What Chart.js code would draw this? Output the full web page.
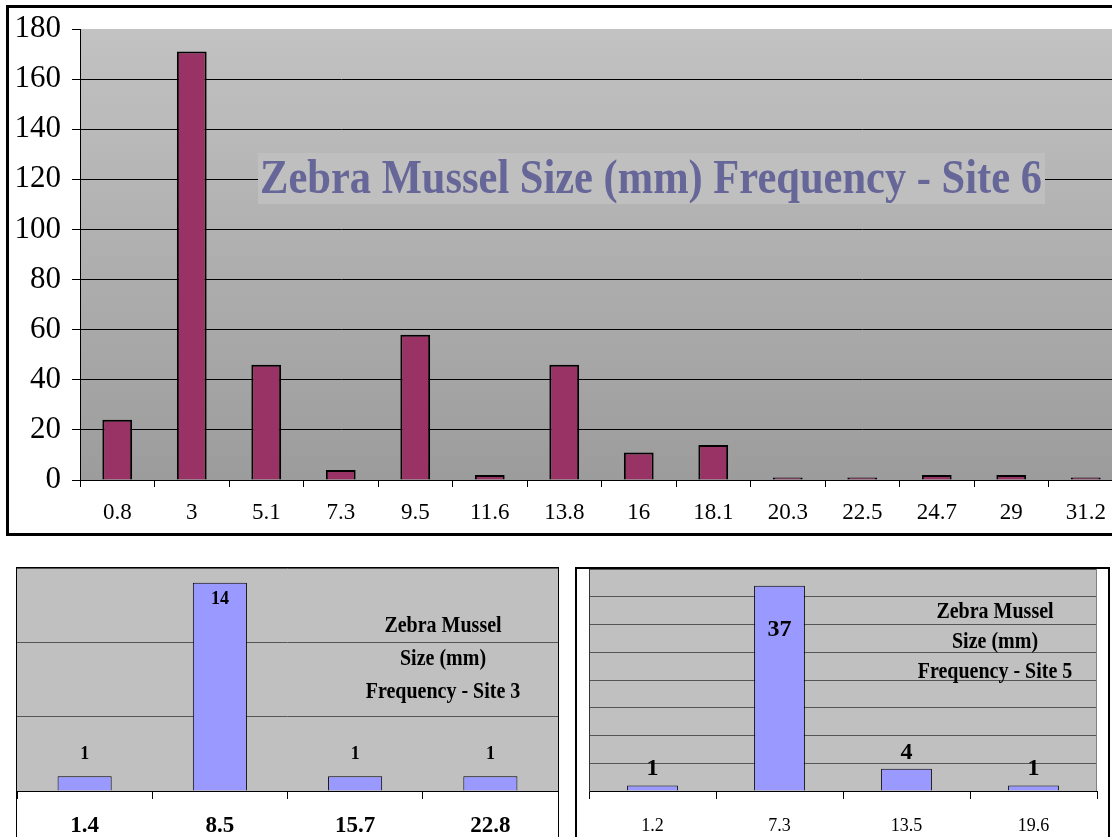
<!DOCTYPE html>
<html>
<head>
<meta charset="utf-8">
<script src="https://cdn.jsdelivr.net/npm/chart.js@4/dist/chart.umd.min.js"></script>
<style>
  html, body { margin: 0; padding: 0; background: #fff; width: 1112px; height: 837px; overflow: hidden; }
  .box { position: absolute; }
  .box canvas { display: block; }
  #box6 { left: 6px; top: 5px; border: 3px solid #000; border-right: none; }
  #box3 { left: 16px; top: 567px; border: 1px solid #000; }
  #box5 { left: 575px; top: 567px; border: 2px solid #000; }
</style>
</head>
<body>
<div class="box" id="box6"><canvas id="site6" width="1114" height="525"></canvas></div>
<div class="box" id="box3"><canvas id="site3" width="541" height="280"></canvas></div>
<div class="box" id="box5"><canvas id="site5" width="531" height="280"></canvas></div>

<script>
// Site 6 (big chart)
const site6Sizes  = ['0.8', '3', '5.1', '7.3', '9.5', '11.6', '13.8', '16', '18.1', '20.3', '22.5', '24.7', '29', '31.2'];
const site6Counts = [24, 171, 46, 4, 58, 2, 46, 11, 14, 1, 1, 2, 2, 1];
const site6Title  = ['Zebra Mussel Size (mm) Frequency - Site 6'];

// Site 3
const site3Sizes  = ['1.4', '8.5', '15.7', '22.8'];
const site3Counts = [1, 14, 1, 1];
const site3Title  = ['Zebra Mussel', 'Size (mm)', 'Frequency - Site 3'];

// Site 5
const site5Sizes  = ['1.2', '7.3', '13.5', '19.6'];
const site5Counts = [1, 37, 4, 1];
const site5Title  = ['Zebra Mussel', 'Size (mm)', 'Frequency - Site 5'];

const SERIF = "'Liberation Serif', 'Times New Roman', serif";

// ── fond du plot (dégradé ou uni) ──
const plotFill = {
  id: 'plotFill',
  beforeDraw(chart, args, o) {
    const { ctx, chartArea: a } = chart;
    ctx.save();
    if (o.to) {
      const g = ctx.createLinearGradient(0, a.top, 0, a.bottom);
      g.addColorStop(0, o.from);
      g.addColorStop(1, o.to);
      ctx.fillStyle = g;
    } else {
      ctx.fillStyle = o.from;
    }
    ctx.fillRect(a.left, a.top, a.right - a.left, a.bottom - a.top);
    ctx.restore();
  },
  afterDatasetsDraw(chart, args, o) {
    if (!o.edge) return;
    const { ctx, chartArea: a } = chart;
    ctx.save();
    ctx.strokeStyle = o.edge;
    ctx.lineWidth = 1;
    ctx.beginPath();
    ctx.moveTo(a.right - 0.5, a.top);
    ctx.lineTo(a.right - 0.5, a.bottom);
    ctx.stroke();
    ctx.restore();
  }
};

// ── titre posé dans le plot (texte un peu étiré en hauteur, comme l'original) ──
const boxTitle = {
  id: 'boxTitle',
  afterDraw(chart, args, o) {
    if (!o.lines) return;
    const ctx = chart.ctx;
    const sy = o.stretch || 1;
    ctx.save();
    let size = o.size;
    if (o.fitWidth) {
      ctx.font = `bold 100px ${SERIF}`;
      size = 100 * o.fitWidth / ctx.measureText(o.lines[0]).width;
    }
    if (o.bg) {
      ctx.fillStyle = o.bg;
      ctx.fillRect(o.bgBox[0], o.bgBox[1], o.bgBox[2], o.bgBox[3]);
    }
    ctx.font = `bold ${size}px ${SERIF}`;
    ctx.fillStyle = o.color;
    ctx.textAlign = 'center';
    ctx.textBaseline = 'middle';
    o.lines.forEach((t, i) => {
      ctx.save();
      ctx.translate(o.x, o.y + i * (o.lineGap || 0));
      ctx.scale(1, sy);
      ctx.fillText(t, 0, 0);
      ctx.restore();
    });
    ctx.restore();
  }
};

// ── étiquettes de valeur ──
const barLabels = {
  id: 'barLabels',
  afterDatasetsDraw(chart, args, o) {
    if (!o.size) return;
    const { ctx, chartArea: a } = chart;
    const meta = chart.getDatasetMeta(0);
    const vals = chart.data.datasets[0].data;
    ctx.save();
    ctx.font = `bold ${o.size}px ${SERIF}`;
    ctx.fillStyle = '#000';
    ctx.textAlign = 'center';
    ctx.textBaseline = 'alphabetic';
    meta.data.forEach((bar, i) => {
      let y = bar.y - o.gap;
      if (y - o.size * 0.7 < a.top) y = bar.y + o.inside;
      ctx.fillText(String(vals[i]), bar.x, y);
    });
    ctx.restore();
  }
};

Chart.register(plotFill, boxTitle, barLabels);

// tailles d'axes figées, sans marge ajoutée par les libellés
function fixWidth(w)  { return s => { s.width = w; s.paddingTop = 0; s.paddingBottom = 0; }; }
function fixHeight(h) { return s => { s.height = h; s.paddingLeft = 0; s.paddingRight = 0; }; }

// ── Site 6 ──
new Chart(document.getElementById('site6'), {
  type: 'bar',
  data: {
    labels: site6Sizes,
    datasets: [{ data: site6Counts, backgroundColor: '#993366', borderColor: '#000', borderWidth: 2,
      categoryPercentage: 1, barPercentage: 0.4 }]
  },
  options: {
    responsive: false, animation: false,
    layout: { padding: { top: 21, left: 0, right: 0, bottom: 0 } },
    plugins: {
      legend: { display: false }, tooltip: { enabled: false },
      plotFill: { from: '#c2c2c2', to: '#9c9c9c' },
      boxTitle: { lines: site6Title, fitWidth: 782, stretch: 1.15, color: '#666699', x: 642, y: 172,
        bg: '#bfbfbf', bgBox: [249, 145, 787, 51] },
      barLabels: {}
    },
    scales: {
      x: {
        afterFit: fixHeight(53),
        grid: { offset: true, drawOnChartArea: false, drawTicks: true, tickLength: 7, color: '#000' },
        border: { color: '#000', width: 1 },
        ticks: { color: '#000', font: { family: SERIF, size: 23 }, padding: 12, maxRotation: 0, autoSkip: false }
      },
      y: {
        min: 0, max: 180,
        afterFit: fixWidth(71),
        grid: { color: c => (c.tick && c.tick.value === 180 ? 'rgba(0,0,0,0)' : '#000'), tickColor: '#000',
          lineWidth: 1, tickLength: 8 },
        border: { color: '#000', width: 1 },
        ticks: { stepSize: 20, color: '#000', font: { family: SERIF, size: 31 }, padding: 11 }
      }
    }
  }
});

// ── Site 3 ──
new Chart(document.getElementById('site3'), {
  type: 'bar',
  data: {
    labels: site3Sizes,
    datasets: [{ data: site3Counts, backgroundColor: '#9999ff', borderColor: '#000', borderWidth: 1,
      categoryPercentage: 1, barPercentage: 0.4 }]
  },
  options: {
    responsive: false, animation: false,
    layout: { padding: 0 },
    plugins: {
      legend: { display: false }, tooltip: { enabled: false },
      plotFill: { from: '#c0c0c0' },
      boxTitle: { lines: site3Title, size: 20, stretch: 1.12, color: '#000', x: 426, y: 58, lineGap: 33 },
      barLabels: { size: 18, gap: 17, inside: 21 }
    },
    scales: {
      x: {
        afterFit: fixHeight(57),
        grid: { offset: true, drawOnChartArea: false, drawTicks: true, tickLength: 8, color: '#000' },
        border: { color: '#000', width: 1 },
        ticks: { color: '#000', font: { family: SERIF, size: 23, weight: 'bold' }, padding: 13, maxRotation: 0 }
      },
      y: {
        min: 0, max: 15,
        afterFit: fixWidth(0),
        grid: { color: '#555', lineWidth: 1, drawTicks: false },
        border: { display: false },
        ticks: { stepSize: 5, display: false }
      }
    }
  }
});

// ── Site 5 ──
new Chart(document.getElementById('site5'), {
  type: 'bar',
  data: {
    labels: site5Sizes,
    datasets: [{ data: site5Counts, backgroundColor: '#9999ff', borderColor: '#000', borderWidth: 1,
      categoryPercentage: 1, barPercentage: 0.4 }]
  },
  options: {
    responsive: false, animation: false,
    layout: { padding: { left: 0, right: 11, top: 0, bottom: 0 } },
    plugins: {
      legend: { display: false }, tooltip: { enabled: false },
      plotFill: { from: '#c0c0c0', edge: '#808080' },
      boxTitle: { lines: site5Title, size: 20, stretch: 1.12, color: '#000', x: 418, y: 43, lineGap: 30 },
      barLabels: { size: 24, gap: 10, inside: 50 }
    },
    scales: {
      x: {
        afterFit: fixHeight(58),
        grid: { offset: true, drawOnChartArea: false, drawTicks: true, tickLength: 8, color: '#000' },
        border: { color: '#000', width: 1 },
        ticks: { color: '#000', font: { family: SERIF, size: 18 }, padding: 16, maxRotation: 0 }
      },
      y: {
        min: 0, max: 40,
        afterFit: fixWidth(12),
        grid: { color: '#555', lineWidth: 1, drawTicks: false },
        border: { color: '#333', width: 1 },
        ticks: { stepSize: 5, display: false }
      }
    }
  }
});
</script>
</body>
</html>
